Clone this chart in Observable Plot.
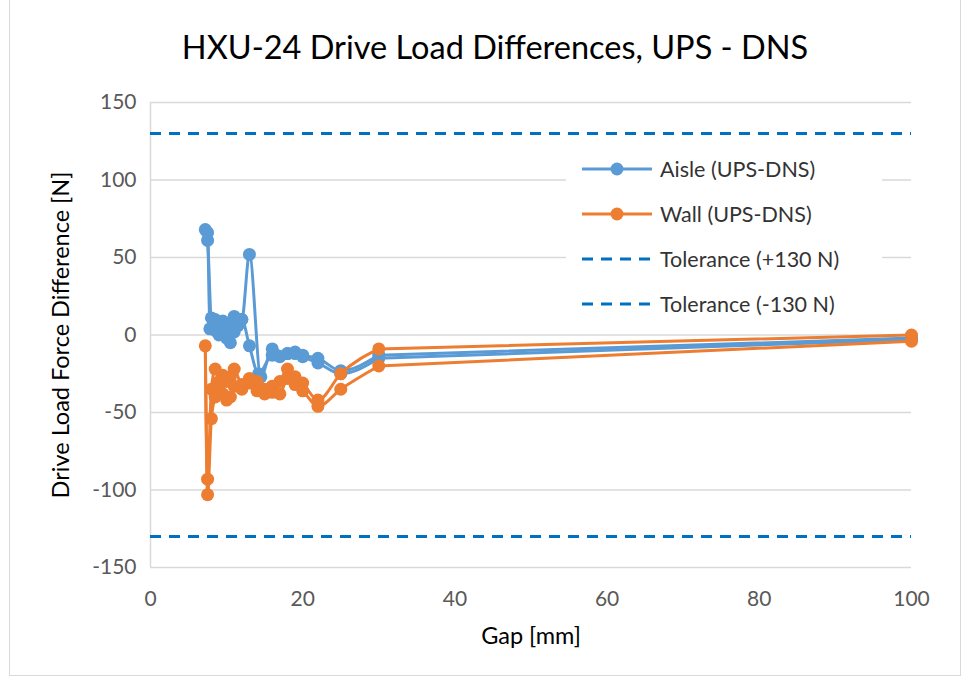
<!DOCTYPE html>
<html>
<head>
<meta charset="utf-8">
<script src="https://cdn.jsdelivr.net/npm/d3@7"></script>
<script src="https://cdn.jsdelivr.net/npm/@observablehq/plot@0.6"></script>
<style>
  html, body { margin: 0; padding: 0; background: #fff; }
  #wrap { position: relative; width: 972px; height: 679px; overflow: hidden; font-family: Lato, "Open Sans", sans-serif; }
  #border { position: absolute; left: 9px; top: -2px; width: 952px; height: 678px; border: 1px solid #d9d9d9; box-sizing: border-box; pointer-events: none; }
  #title { height: 80px; line-height: 94px; text-align: center; font-size: 32.5px; color: #000; padding-left: 18px; }
  #legend { position: absolute; left: 566px; top: 146px; width: 300px; background: #fff; padding: 0 0 0 16px; }
  .row { height: 45px; display: flex; align-items: center; font-size: 21.5px; color: #333; }
  .row svg { margin-right: 8px; }
</style>
</head>
<body>
<div id="wrap">
  <div id="title">HXU-24 Drive Load Differences, UPS - DNS</div>
  <div id="chart"></div>
  <div id="legend"></div>
  <div id="border"></div>
</div>
<script>
// ---- data (loop: gap decreasing then increasing) ----
const aisleGap = [100, 30, 25, 22, 20, 19, 18, 16, 14.5, 13, 12, 11, 10.5, 10, 9.5, 9, 8.5, 8, 7.5, 7.2,
                  7.5, 7.8, 8.5, 9, 9.5, 10, 10.5, 11, 11.5, 12, 13, 14.2, 16, 17, 18, 19, 20, 22, 25, 30, 100];
const aisleDiff = [-2, -13, -23, -15, -13, -11, -12, -9, -27, 52, 10, 12, 8, 5, 9, 7, 10, 11, 61, 68,
                   66, 4, 3, 0, 2, -2, -5, 2, 6, 10, -7, -25, -13, -14, -12, -12, -14, -18, -25, -15, -3];
const wallGap = [100, 30, 25, 22, 20, 19, 18, 17, 16, 15, 14, 13, 12, 11, 10.5, 10, 9.5, 9, 8.5, 8, 7.5, 7.2,
                 7.5, 8, 8.5, 9, 9.5, 10, 10.5, 11, 12, 13, 14, 15, 16, 17, 18, 19, 20, 22, 25, 30, 100];
const wallDiff = [0, -9, -25, -42, -31, -27, -22, -30, -33, -35, -30, -28, -32, -22, -27, -30, -26, -30, -22, -35, -93, -7,
                  -103, -54, -40, -35, -38, -42, -40, -33, -35, -31, -36, -38, -37, -38, -28, -32, -36, -46, -35, -20, -4];
const tolerances = [130, -130];
const seriesNames = ["Aisle (UPS-DNS)", "Wall (UPS-DNS)"];
const toleranceNames = ["Tolerance (+130 N)", "Tolerance (-130 N)"];
const xTicks = [0, 20, 40, 60, 80, 100];
const yTicks = [-150, -100, -50, 0, 50, 100, 150];

const colAisle = "#5B9BD5", colWall = "#ED7D31", colTol = "#0070C0";

function toRows(gaps, diffs) {
  return gaps.map((g, i) => ({gap: g, diff: diffs[i]}));
}
// split a loop into its closing and opening passes (each monotone in gap),
// and each pass into the dense smoothed part and the long straight last step
function segments(rows) {
  const k = d3.minIndex(rows, d => d.gap);
  const p1 = rows.slice(0, k + 1), p2 = rows.slice(k);
  const near = [
    ...p1.slice(1).map(d => ({...d, seg: "close"})),
    ...p2.slice(0, -1).map(d => ({...d, seg: "open"}))
  ];
  const far = [
    ...p1.slice(0, 2).map(d => ({...d, seg: "close"})),
    ...p2.slice(-2).map(d => ({...d, seg: "open"}))
  ];
  return {near, far};
}
const aisle = toRows(aisleGap, aisleDiff);
const wall = toRows(wallGap, wallDiff);
const aSeg = segments(aisle), wSeg = segments(wall);

const chart = Plot.plot({
  width: 972,
  height: 599,
  marginLeft: 150,
  marginRight: 61,
  marginTop: 22,
  marginBottom: 112,
  style: {fontFamily: "Lato, 'Open Sans', sans-serif", fontSize: "21px", background: "#fff"},
  x: {domain: [0, 100]},
  y: {domain: [-150, 150]},
  marks: [
    Plot.gridY(yTicks, {stroke: "#d9d9d9", strokeOpacity: 1, strokeWidth: 1.5}),
    Plot.ruleX([0], {y1: -150, y2: 150, stroke: "#d9d9d9", strokeWidth: 1.5}),
    Plot.axisY(yTicks, {tickSize: 0, tickPadding: 14, fill: "#595959", fontSize: 21, tickFormat: d => String(d), label: null}),
    Plot.axisX(xTicks, {tickSize: 0, tickPadding: 24, fill: "#595959", fontSize: 21, tickFormat: d => String(d), label: null}),
    Plot.axisY({tickSize: 0, ticks: [], label: "Drive Load Force Difference [N]", labelAnchor: "center", labelArrow: "none", labelOffset: 98, fontSize: 23.5, fill: "#000"}),
    Plot.axisX({tickSize: 0, ticks: [], label: "Gap [mm]", labelAnchor: "center", labelArrow: "none", labelOffset: 76, fontSize: 23.5, fill: "#000"}),
    Plot.ruleY(tolerances, {x1: 0, x2: 100, stroke: colTol, strokeWidth: 3, strokeDasharray: "11,8"}),
    Plot.line(aSeg.far, {x: "gap", y: "diff", z: "seg", stroke: colAisle, strokeWidth: 3}),
    Plot.line(aSeg.near, {x: "gap", y: "diff", z: "seg", stroke: colAisle, strokeWidth: 3, curve: "monotone-x"}),
    Plot.dot(aisle, {x: "gap", y: "diff", fill: colAisle, r: 6.5}),
    Plot.line(wSeg.far, {x: "gap", y: "diff", z: "seg", stroke: colWall, strokeWidth: 3}),
    Plot.line(wSeg.near, {x: "gap", y: "diff", z: "seg", stroke: colWall, strokeWidth: 3, curve: "monotone-x"}),
    Plot.dot(wall, {x: "gap", y: "diff", fill: colWall, r: 6.5})
  ]
});
document.getElementById("chart").appendChild(chart);

// ---- legend ----
const legend = document.getElementById("legend");
const items = [
  {name: seriesNames[0], color: colAisle, dash: null},
  {name: seriesNames[1], color: colWall, dash: null},
  {name: toleranceNames[0], color: colTol, dash: "11,8"},
  {name: toleranceNames[1], color: colTol, dash: "11,8"}
];
items.forEach(it => {
  const row = document.createElement("div");
  row.className = "row";
  const s = d3.create("svg").attr("width", 70).attr("height", 16);
  s.append("line").attr("x1", 0).attr("x2", 70).attr("y1", 8).attr("y2", 8)
    .attr("stroke", it.color).attr("stroke-width", 3).attr("stroke-dasharray", it.dash);
  if (!it.dash) s.append("circle").attr("cx", 35).attr("cy", 8).attr("r", 6.5).attr("fill", it.color);
  row.appendChild(s.node());
  const t = document.createElement("span");
  t.textContent = it.name;
  row.appendChild(t);
  legend.appendChild(row);
});
</script>
</body>
</html>
